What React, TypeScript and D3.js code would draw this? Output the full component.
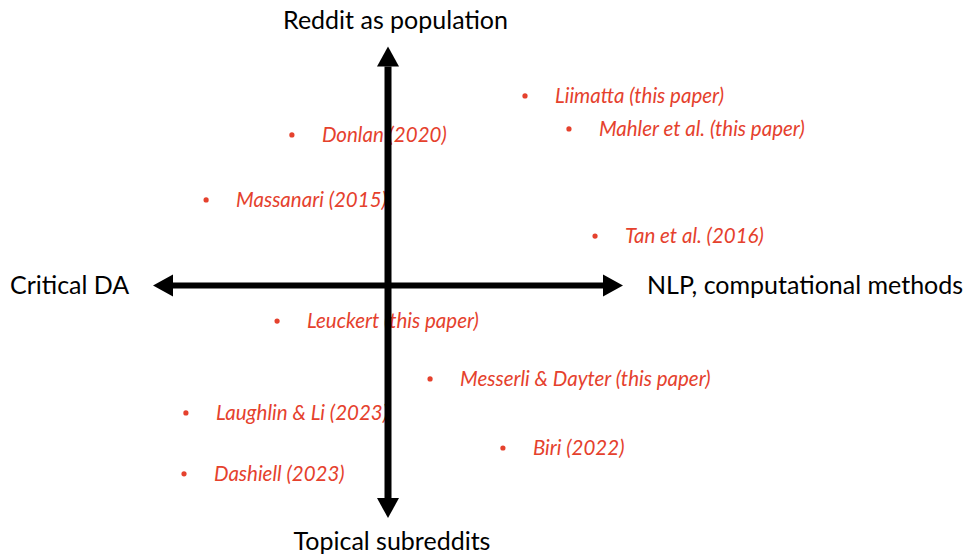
import React from "react";
import * as d3 from "d3";

const studies = [
  "Liimatta (this paper)",
  "Mahler et al. (this paper)",
  "Donlan (2020)",
  "Massanari (2015)",
  "Tan et al. (2016)",
  "Leuckert (this paper)",
  "Messerli & Dayter (this paper)",
  "Laughlin & Li (2023)",
  "Dashiell (2023)",
  "Biri (2022)",
];
// x: Critical DA (-1) ... NLP, computational methods (+1)
const methodScores = [0.583, 0.77, -0.409, -0.774, 0.881, -0.472, 0.179, -0.86, -0.868, 0.489];
// y: Topical subreddits (-1) ... Reddit as population (+1)
const scopeScores = [0.793, 0.655, 0.63, 0.358, 0.207, -0.149, -0.391, -0.533, -0.788, -0.68];

const axisLabels = ["Reddit as population", "Topical subreddits", "Critical DA", "NLP, computational methods"];
const xExtent = [-1, 1];
const yExtent = [-0.973, 1];

const W = 968;
const H = 556;

export default function App() {
  const x = d3.scaleLinear().domain([-1, 1]).range([153, 623]);
  const y = d3.scaleLinear().domain([-1, 1]).range([524.5, 46.5]);
  const red = "#e5412d";
  const ah = 20; // arrow head length
  const aw = 11; // half width
  const x0 = x(0);
  const y0 = y(0);
  const xl = x(xExtent[0]);
  const xr = x(xExtent[1]);
  const yt = y(yExtent[1]);
  const yb = y(yExtent[0]);
  const axisFont = "Lato, 'DejaVu Sans', sans-serif";
  return (
    <svg width={W} height={H} style={{ position: "absolute", left: 0, top: 0, background: "#fff" }}>
      <rect width={W} height={H} fill="#fff" />
      {studies.map((s, i) => (
        <g key={s}>
          <circle cx={x(methodScores[i])} cy={y(scopeScores[i])} r={2.6} fill={red} />
          <text
            x={x(methodScores[i]) + 30}
            y={y(scopeScores[i])}
            dy="0.35em"
            fill={red}
            fontStyle="italic"
            fontFamily={axisFont}
            fontSize={20.5}
          >
            {s}
          </text>
        </g>
      ))}
      <g fill="#000" stroke="none">
        <rect x={xl + ah} y={y0 - 3} width={xr - xl - 2 * ah} height={6} />
        <rect x={x0 - 3.5} y={yt + ah} width={7} height={yb - yt - 2 * ah} />
        <path d={`M${xl},${y0} L${xl + ah},${y0 - aw} L${xl + ah},${y0 + aw} Z`} />
        <path d={`M${xr},${y0} L${xr - ah},${y0 - aw} L${xr - ah},${y0 + aw} Z`} />
        <path d={`M${x0},${yt} L${x0 - aw},${yt + ah} L${x0 + aw},${yt + ah} Z`} />
        <path d={`M${x0},${yb} L${x0 - aw},${yb - ah} L${x0 + aw},${yb - ah} Z`} />
      </g>
      <g fontFamily={axisFont} fontSize={25} fill="#000">
        <text x={395.5} y={29} textAnchor="middle">{axisLabels[0]}</text>
        <text x={392} y={550} textAnchor="middle">{axisLabels[1]}</text>
        <text x={10} y={y0} dy="0.35em">{axisLabels[2]}</text>
        <text x={647} y={y0} dy="0.35em">{axisLabels[3]}</text>
      </g>
    </svg>
  );
}
